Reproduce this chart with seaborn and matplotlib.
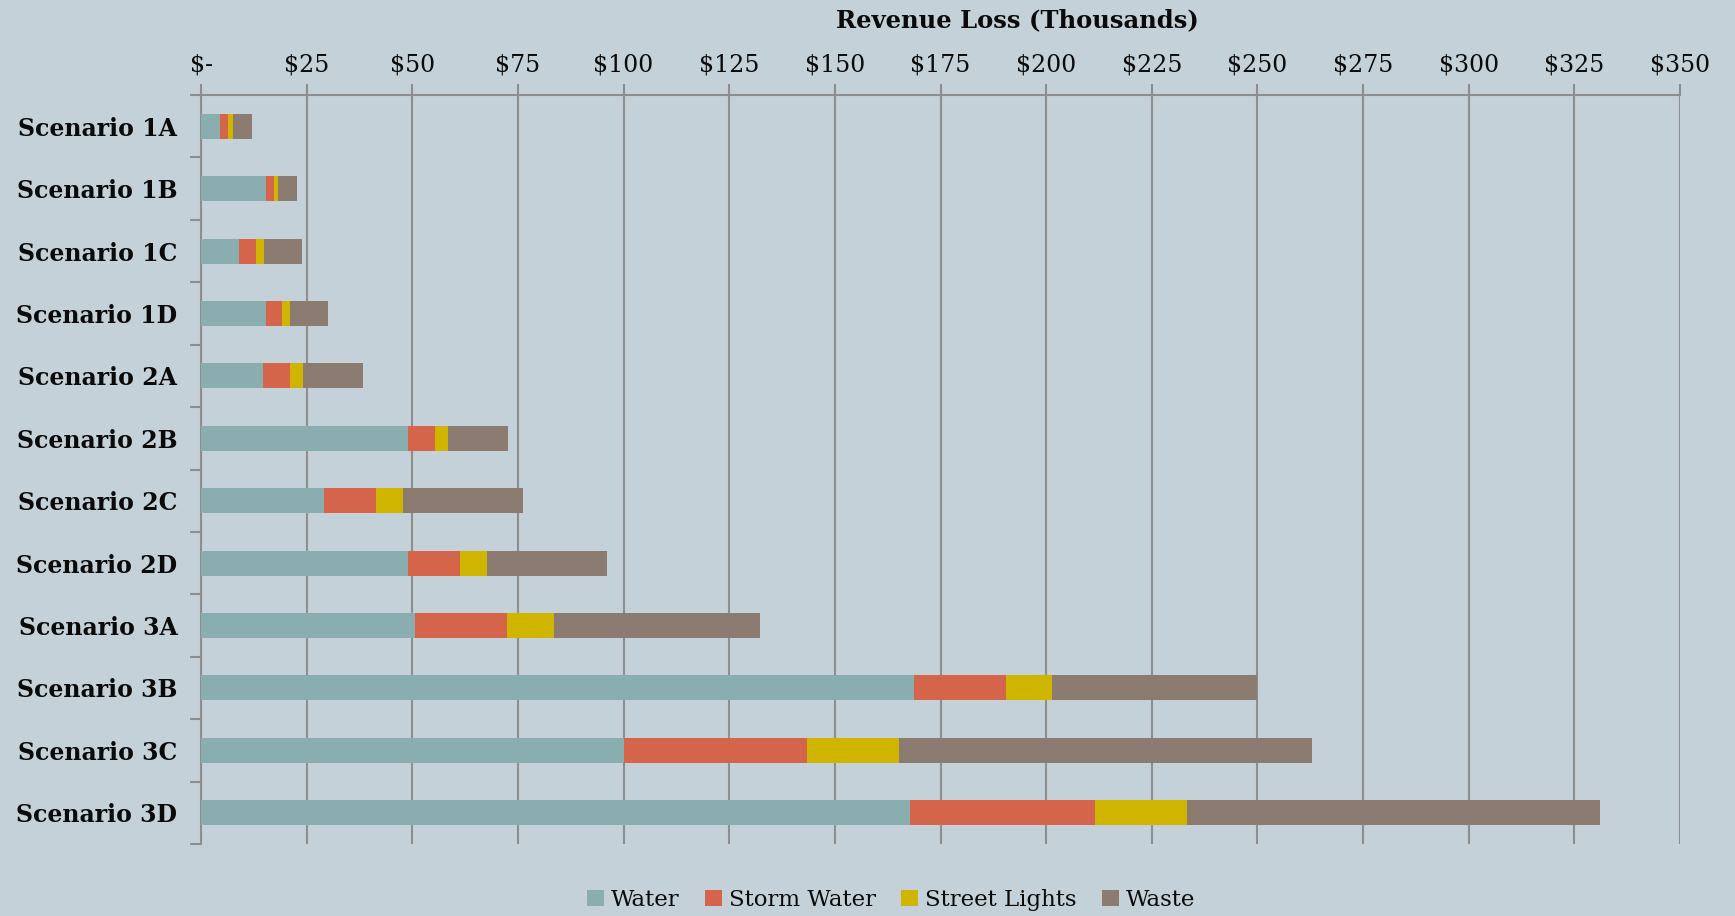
import matplotlib
matplotlib.use("Agg")
import matplotlib.pyplot as plt
import matplotlib.ticker as mticker
from matplotlib.patches import Patch
import numpy as np
import pandas as pd
import seaborn as sns

# ---------------------------------------------------------------------------
# Data (thousands of dollars)
# ---------------------------------------------------------------------------
scenarios = [
    "Scenario 1A", "Scenario 1B", "Scenario 1C", "Scenario 1D",
    "Scenario 2A", "Scenario 2B", "Scenario 2C", "Scenario 2D",
    "Scenario 3A", "Scenario 3B", "Scenario 3C", "Scenario 3D",
]
water = [4.6, 15.3, 9.1, 15.3, 14.7, 49.1, 29.0, 48.9, 50.7, 168.7, 100.0, 167.9]
storm_water = [1.8, 1.9, 3.9, 3.8, 6.3, 6.2, 12.5, 12.5, 21.8, 21.7, 43.5, 43.7]
street_lights = [1.1, 1.1, 1.9, 2.0, 3.2, 3.1, 6.4, 6.3, 11.0, 10.9, 21.6, 21.8]
waste = [4.5, 4.4, 8.9, 9.0, 14.2, 14.3, 28.4, 28.4, 48.8, 48.7, 97.9, 97.7]

series_names = ["Water", "Storm Water", "Street Lights", "Waste"]
colors = ["#8AADAF", "#D4654A", "#CFB400", "#8C7B70"]

BG = "#C5D1D8"
GRID = "#8E8E8E"
TEXT = "#0A0A0A"

sns.set_theme(style="white")
plt.rcParams["font.family"] = ["DejaVu Serif"]

df = pd.DataFrame({
    "scenario": scenarios,
    "Water": water,
    "Storm Water": storm_water,
    "Street Lights": street_lights,
    "Waste": waste,
})
cum = df[series_names].cumsum(axis=1)

fig = plt.figure(figsize=(17.35, 9.16), dpi=100, facecolor=BG)
ax = fig.add_axes([201 / 1735, 1 - 844 / 916, (1680 - 201) / 1735, (844 - 95) / 916])
ax.set_facecolor(BG)

# draw cumulative totals back-to-front so each layer shows its own segment
for name, color in reversed(list(zip(series_names, colors))):
    sns.barplot(
        x=cum[name], y=df["scenario"], orient="h", color=color,
        saturation=1, width=0.4, linewidth=0, ax=ax, zorder=3,
    )

ax.set_xlim(0, 350)
ax.set_ylim(11.5, -0.5)
ax.set_xlabel("")
ax.set_ylabel("")

# x-axis on top
ax.xaxis.tick_top()
ax.xaxis.set_major_locator(mticker.MultipleLocator(25))
ax.xaxis.set_major_formatter(
    mticker.FuncFormatter(lambda v, _: "$-" if v == 0 else f"${int(v)}")
)
ax.tick_params(axis="x", which="major", top=True, bottom=False, length=8,
               width=1.5, color=GRID, pad=5, labelsize=17, labelcolor=TEXT)
ax.grid(axis="x", color=GRID, linewidth=1.5, zorder=0)
ax.set_axisbelow(True)

# y ticks between categories
ax.yaxis.set_minor_locator(mticker.FixedLocator(np.arange(-0.5, 12, 1.0)))
ax.tick_params(axis="y", which="major", length=0, pad=17, labelsize=17)
ax.tick_params(axis="y", which="minor", left=True, length=8, width=1.5, color=GRID)
for lbl in ax.get_yticklabels():
    lbl.set_fontweight("bold")
    lbl.set_color(TEXT)

for side in ["right", "bottom"]:
    ax.spines[side].set_visible(False)
for side in ["top", "left"]:
    ax.spines[side].set_color(GRID)
    ax.spines[side].set_linewidth(1.5)

fig.text(1017 / 1735, 1 - 20 / 916, "Revenue Loss (Thousands)", ha="center",
         va="center", fontsize=17.5, fontweight="bold", color=TEXT)

handles = [Patch(facecolor=c, edgecolor="none") for c in colors]
leg = fig.legend(handles, series_names, loc="lower center",
                 bbox_to_anchor=(891 / 1735, -0.017), ncol=4, frameon=False,
                 fontsize=16.5, handlelength=0.75, handleheight=0.75,
                 handletextpad=0.3, columnspacing=1.1)
for t in leg.get_texts():
    t.set_color(TEXT)

fig.savefig("out.png", dpi=100, facecolor=BG)
